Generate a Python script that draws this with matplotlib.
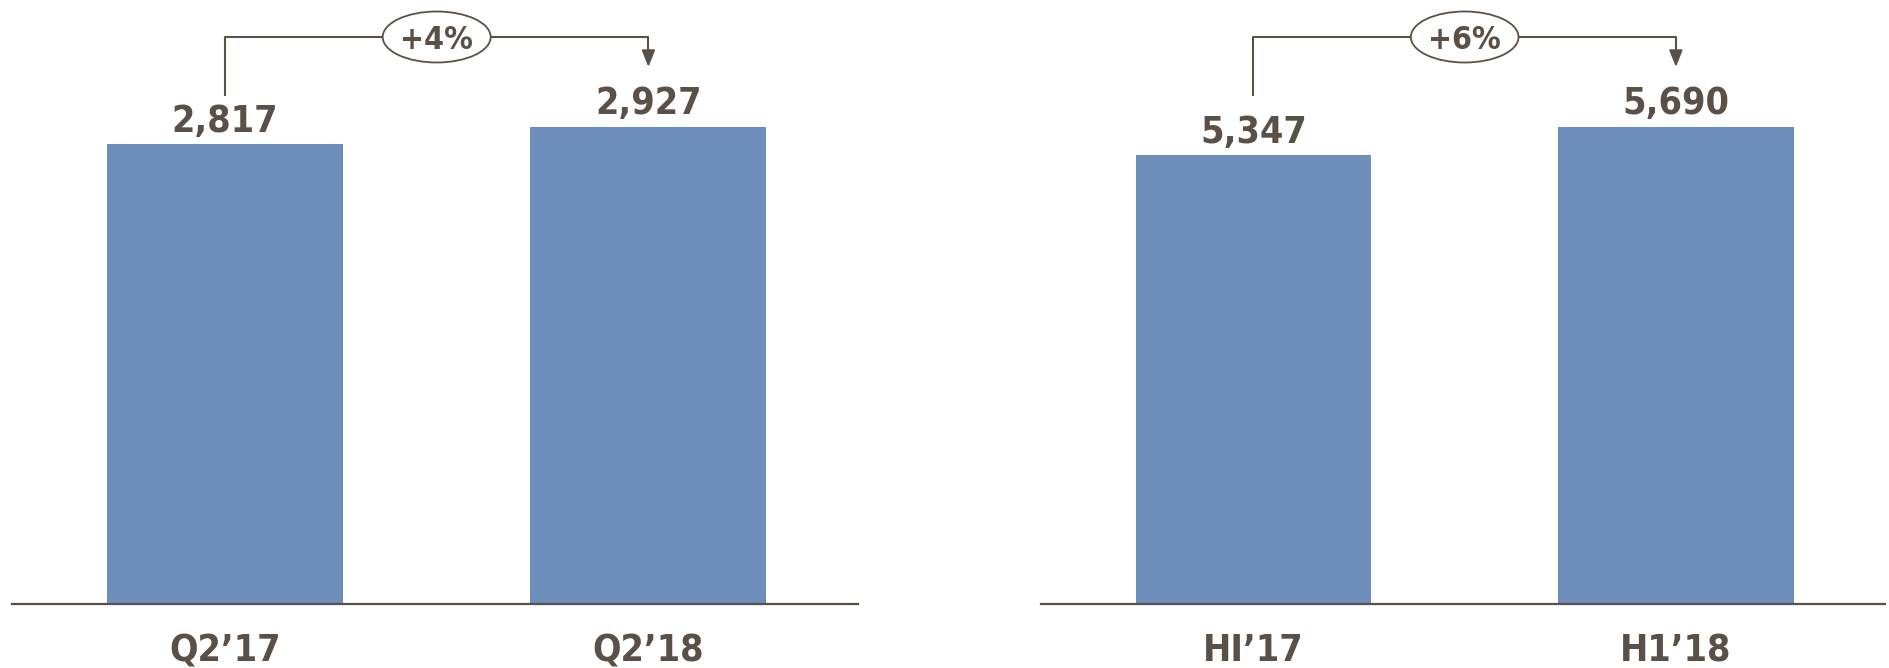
import matplotlib
matplotlib.use("Agg")
import matplotlib.pyplot as plt
from matplotlib import transforms
from matplotlib.patches import Ellipse

# Data
left_categories = ["Q2\u201917", "Q2\u201918"]
left_values = [2817, 2927]
left_change = "+4%"

right_categories = ["HI\u201917", "H1\u201918"]
right_values = [5347, 5690]
right_change = "+6%"

BAR = "#6d8dba"
TXT = "#5b5048"
FONT = dict(family="DejaVu Sans", stretch="condensed", weight="bold")

W, H = 1889, 668
fig = plt.figure(figsize=(W / 100, H / 100), dpi=100)

base_px = 604      # baseline from top
top_px = 126.5     # top of tallest bar from top
bottom_frac = (H - base_px) / H
height_frac = base_px / H
px_per_unit = 423.5


def panel(left_px, right_px, cats, vals, change):
    ax = fig.add_axes([left_px / W, bottom_frac, (right_px - left_px) / W, height_frac])
    ymax = max(vals) * base_px / (base_px - top_px)
    ax.bar(range(len(vals)), vals, width=0.557, color=BAR, zorder=2)
    ax.set_xlim(-0.503, 1.495)
    ax.set_ylim(0, ymax)
    for s in ["top", "left", "right"]:
        ax.spines[s].set_visible(False)
    ax.spines["bottom"].set_color(TXT)
    ax.spines["bottom"].set_linewidth(1.6)
    ax.set_yticks([])
    ax.set_xticks(range(len(cats)))
    ax.set_xticklabels(cats, fontsize=27, color=TXT, **FONT)
    ax.tick_params(axis="x", length=0, pad=21)
    for i, v in enumerate(vals):
        ax.annotate(f"{v:,}", (i, v), xytext=(0, 9), textcoords="offset points",
                    ha="center", va="baseline", fontsize=27,
                    color=TXT, **FONT)
    tr = transforms.blended_transform_factory(ax.transData, fig.transFigure)
    y_h = 1 - 37 / H
    y_start = 1 - 96 / H
    y_tip = 1 - 67 / H
    ax.plot([0, 0, 1, 1], [y_start, y_h, y_h, y_tip + 0.015], color=TXT, lw=1.5,
            transform=tr, clip_on=False, solid_capstyle="butt")
    ax.annotate("", xy=(1, y_tip), xycoords=tr, xytext=(1, y_tip + 0.022), textcoords=tr,
                arrowprops=dict(arrowstyle="-|>,head_length=1.0,head_width=0.4",
                                color=TXT, lw=1.5, shrinkA=0, shrinkB=0),
                annotation_clip=False)
    ell = Ellipse((0.5, y_h), 108 / px_per_unit, 51 / H, transform=tr,
                  facecolor="white", edgecolor=TXT, lw=1.3, clip_on=False, zorder=4)
    ax.add_patch(ell)
    ax.text(0.5, y_h, change, transform=tr, ha="center", va="center_baseline", fontsize=23,
            color=TXT, zorder=5, **FONT)
    return ax


panel(12, 858, left_categories, left_values, left_change)
panel(1041, 1885, right_categories, right_values, right_change)

fig.savefig("out.png", dpi=100, facecolor="white")
